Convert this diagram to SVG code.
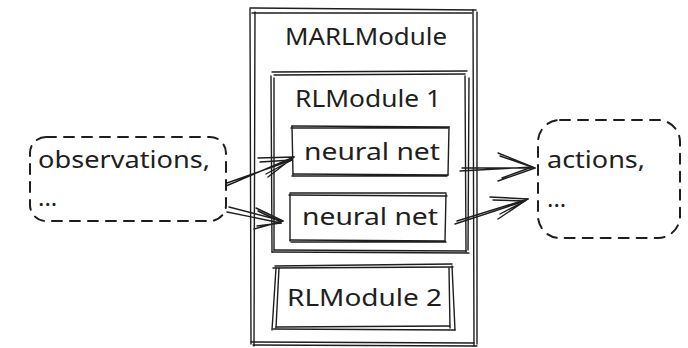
<svg xmlns="http://www.w3.org/2000/svg" width="688" height="348" viewBox="0 0 688 348">
  <style>
    .ink { fill: none; stroke: #1e1e1e; stroke-width: 1.4; stroke-linecap: round; stroke-linejoin: round; }
    .dash { fill: none; stroke: #1e1e1e; stroke-width: 2; stroke-linecap: round; stroke-dasharray: 10 8; }
    .lbl { font-family: "Noto Sans", "DejaVu Sans", sans-serif; font-size: 24px; fill: #1e1e1e; }
  </style>
  <rect width="688" height="348" fill="#ffffff"/>

  <!-- MARLModule container -->
  <g id="marl-module">
    <path class="ink" d="M250 8 L476 10 M252 13 L472 13"/>
    <path class="ink" d="M250 9 L251 344 M255 12 L254 346"/>
    <path class="ink" d="M473 10 L474 346 M477 12 L477 344"/>
    <path class="ink" d="M253 345 L477 346 M251 342 L474 343"/>
    <text class="lbl" x="285" y="45" textLength="162" lengthAdjust="spacingAndGlyphs">MARLModule</text>
  </g>

  <!-- RLModule 1 -->
  <g id="rl-module-1">
    <path class="ink" d="M272 72 L467 71 M274 75 L465 74"/>
    <path class="ink" d="M271 76 L272 252 M274 78 L274 250"/>
    <path class="ink" d="M465 76 L466 252 M469 78 L468 250"/>
    <path class="ink" d="M272 252 L469 253 M274 250 L466 251"/>
    <text class="lbl" x="295" y="107" textLength="146" lengthAdjust="spacingAndGlyphs">RLModule 1</text>
  </g>

  <!-- neural net, upper -->
  <g id="neural-net-1">
    <path class="ink" d="M292 126 L449 127 M291 128 L448 128"/>
    <path class="ink" d="M292 126 L293 175 M449 127 L448 175"/>
    <path class="ink" d="M293 174 L448 175 M292 176 L447 176"/>
    <text class="lbl" x="304" y="160" textLength="136" lengthAdjust="spacingAndGlyphs">neural net</text>
  </g>

  <!-- neural net, lower -->
  <g id="neural-net-2">
    <path class="ink" d="M290 193 L446 193 M289 195 L447 196"/>
    <path class="ink" d="M290 194 L290 241 M446 194 L445 241"/>
    <path class="ink" d="M290 240 L445 241 M291 242 L446 242"/>
    <text class="lbl" x="302" y="225" textLength="136" lengthAdjust="spacingAndGlyphs">neural net</text>
  </g>

  <!-- RLModule 2 -->
  <g id="rl-module-2">
    <path class="ink" d="M275 266 L452 264 M273 268 L453 267"/>
    <path class="ink" d="M276 268 L272 330 M279 268 L276 328"/>
    <path class="ink" d="M452 266 L455 330 M449 268 L450 328"/>
    <path class="ink" d="M273 329 L455 330 M276 327 L450 326"/>
    <text class="lbl" x="287" y="306" textLength="155" lengthAdjust="spacingAndGlyphs">RLModule 2</text>
  </g>

  <!-- input data -->
  <g id="observations">
    <rect class="dash" x="30" y="137" width="196" height="84" rx="16"/>
    <text class="lbl" x="38" y="168" textLength="172" lengthAdjust="spacingAndGlyphs">observations,</text>
    <text class="lbl" x="38" y="206">...</text>
  </g>

  <!-- output data -->
  <g id="actions">
    <rect class="dash" x="538" y="120" width="142" height="118" rx="22"/>
    <text class="lbl" x="547" y="168" textLength="98" lengthAdjust="spacingAndGlyphs">actions,</text>
    <text class="lbl" x="547" y="207">...</text>
  </g>

  <!-- connectors -->
  <g id="connectors">
    <!-- observations to upper net -->
    <path class="ink" d="M226 186 L294 157 M227 183 L292 160"/>
    <path class="ink" d="M258 158 L294 157 M260 162 L292 160 M268 177 L294 157 M266 174 L292 160"/>
    <!-- observations to lower net -->
    <path class="ink" d="M229 207 L283 221 M227 212 L281 223"/>
    <path class="ink" d="M256 208 L283 221 M258 211 L281 222 M254 229 L283 221 M257 226 L281 223"/>
    <!-- upper net to actions -->
    <path class="ink" d="M462 168 L535 168 M460 171 L532 167"/>
    <path class="ink" d="M498 153 L535 168 M500 156 L532 167 M498 181 L535 168 M502 178 L532 167"/>
    <!-- lower net to actions -->
    <path class="ink" d="M455 224 L525 201 M457 221 L528 199"/>
    <path class="ink" d="M490 197 L528 199 M493 200 L525 201 M498 219 L528 199 M500 214 L525 201"/>
  </g>
</svg>
